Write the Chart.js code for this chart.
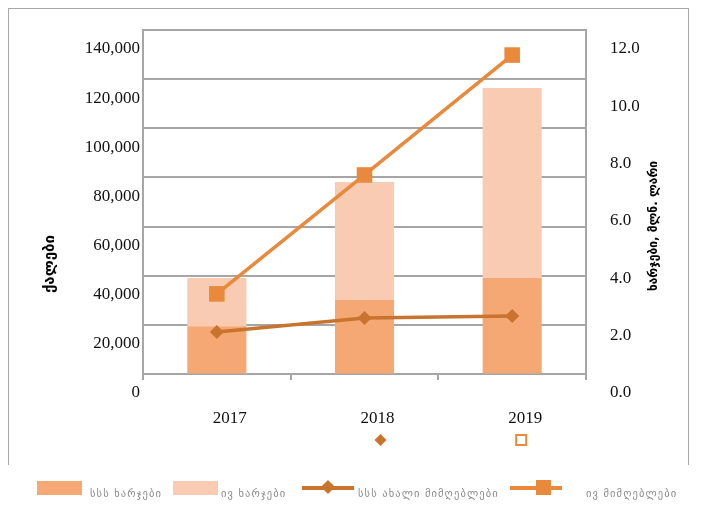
<!DOCTYPE html>
<html><head><meta charset="utf-8">
<script src="https://cdn.jsdelivr.net/npm/chart.js@4.4.1/dist/chart.umd.min.js"></script>
<style>
html,body{margin:0;padding:0;background:#fff;}
#wrap{position:relative;width:702px;height:506px;overflow:hidden;}
#frame{position:absolute;left:8px;top:8px;width:681px;height:457px;border:1.5px solid #a8a8a8;border-bottom:none;box-sizing:border-box;}
canvas{position:absolute;left:0;top:0;}
.sw{position:absolute;height:14px;width:45px;}
.lg{position:absolute;font-family:"DejaVu Sans",sans-serif;font-size:10.5px;letter-spacing:1.1px;color:#8a8a8a;white-space:nowrap;line-height:12px;}
.ln{position:absolute;height:4px;width:52px;}
.mk{position:absolute;}
</style></head><body>
<div id="wrap">
<div id="frame"></div>
<canvas id="c" width="702" height="506"></canvas>
<div id="legend"></div>
</div>
<script>
// ---- data ----
const years = ['2017', '2018', '2019'];
const baseExpenses = [1.67, 2.58, 3.35];      // dark bar part (mln GEL)
const extraExpenses = [1.68, 4.12, 6.63];     // light bar part (mln GEL)
const newRecipients = [17100, 22800, 23600];  // diamond line (women)
const recipients = [32600, 81000, 129800];    // square line (women)
const legendLabels = ['სსს ხარჯები', 'ივ ხარჯები', 'სსს ახალი მიმღებლები', 'ივ მიმღებლები'];
const leftTitle = 'ქალები';
const rightTitle = 'ხარჯები, მლნ. ლარი';

const cDark = '#f5a874', cLight = '#f8cbb2', cSq = '#e8893b', cDia = '#c8742f';
const grid = '#a6a6a6';
const tickFont = {family: '"Liberation Serif", "Times New Roman", serif', size: 17};

const decor = {
  id: 'decor',
  afterDraw(chart) {
    const ctx = chart.ctx;
    ctx.save();
    ctx.fillStyle = '#000';
    ctx.textAlign = 'center';
    ctx.textBaseline = 'middle';
    ctx.font = 'bold 15px "DejaVu Sans", sans-serif';
    ctx.save(); ctx.translate(50, 264); ctx.rotate(-Math.PI / 2); ctx.fillText(leftTitle, 0, 0); ctx.restore();
    ctx.font = 'bold 12px "DejaVu Sans", sans-serif';
    ctx.save(); ctx.translate(654, 226); ctx.rotate(-Math.PI / 2); ctx.fillText(rightTitle, 0, 0); ctx.restore();
    // stray markers under the axis
    const xs = chart.scales.x;
    const x1 = xs.getPixelForValue(1) + 16, x2 = xs.getPixelForValue(2) + 9, yy = 440;
    ctx.fillStyle = cDia;
    ctx.beginPath(); ctx.moveTo(x1, yy - 6); ctx.lineTo(x1 + 6, yy); ctx.lineTo(x1, yy + 6); ctx.lineTo(x1 - 6, yy); ctx.closePath(); ctx.fill();
    ctx.strokeStyle = cSq; ctx.lineWidth = 2;
    ctx.strokeRect(x2 - 5, yy - 5, 10, 10);
    ctx.restore();
  }
};

new Chart(document.getElementById('c'), {
  data: {
    labels: years,
    datasets: [
      {type: 'line', label: legendLabels[2], data: newRecipients, yAxisID: 'y', borderColor: cDia, backgroundColor: cDia,
       borderWidth: 3.5, pointStyle: 'rectRot', pointRadius: 7, pointBorderWidth: 0, pointBackgroundColor: cDia, tension: 0, order: 1},
      {type: 'line', label: legendLabels[3], data: recipients, yAxisID: 'y', borderColor: cSq, backgroundColor: cSq,
       borderWidth: 3.5, pointStyle: 'rect', pointRadius: 11, pointBorderWidth: 0, pointBackgroundColor: cSq, tension: 0, order: 2},
      {type: 'bar', label: legendLabels[0], data: baseExpenses, yAxisID: 'y1', backgroundColor: cDark, stack: 's',
       barPercentage: 0.4, categoryPercentage: 1, order: 5},
      {type: 'bar', label: legendLabels[1], data: extraExpenses, yAxisID: 'y1', backgroundColor: cLight, stack: 's',
       barPercentage: 0.4, categoryPercentage: 1, order: 6}
    ]
  },
  options: {
    responsive: false,
    animation: false,
    layout: {padding: {top: 30, left: 0, right: 0, bottom: 0}},
    plugins: {legend: {display: false}, tooltip: {enabled: false}},
    scales: {
      x: {
        stacked: true, offset: true,
        grid: {drawOnChartArea: false, drawTicks: true, tickLength: 6, color: grid, lineWidth: 2},
        border: {color: grid, width: 2},
        ticks: {font: tickFont, color: '#111', padding: 28, labelOffset: 13, maxRotation: 0},
        afterFit(s) { s.height = 132; }
      },
      y: {
        position: 'left', min: 0, max: 140000,
        grid: {color: grid, lineWidth: 2, drawTicks: false},
        border: {color: grid, width: 2},
        ticks: {stepSize: 20000, font: tickFont, color: '#111', padding: 3, labelOffset: 19,
                callback: v => v.toLocaleString('en-US')},
        afterFit(s) { s.width = 143; s.paddingTop = 10; s.paddingBottom = 10; }
      },
      y1: {
        position: 'right', min: 0, max: 12, stacked: true,
        grid: {drawOnChartArea: false, drawTicks: false},
        border: {display: true, color: grid, width: 2},
        ticks: {stepSize: 2, font: tickFont, color: '#111', padding: 24, labelOffset: 19,
                callback: v => Number(v).toFixed(1)},
        afterFit(s) { s.width = 116; s.paddingTop = 10; s.paddingBottom = 10; }
      }
    }
  },
  plugins: [decor]
});

// ---- legend (HTML) ----
const lg = document.getElementById('legend');
const items = [
  {kind: 'box', color: cDark, x: 37, tx: 90},
  {kind: 'box', color: cLight, x: 173, tx: 221},
  {kind: 'line', color: cDia, x: 302, tx: 358, mark: 'dia'},
  {kind: 'line', color: cSq, x: 510, tx: 586, mark: 'sq'}
];
items.forEach((it, i) => {
  if (it.kind === 'box') {
    const d = document.createElement('div'); d.className = 'sw';
    d.style.left = it.x + 'px'; d.style.top = '481px'; d.style.background = it.color; lg.appendChild(d);
  } else {
    const l = document.createElement('div'); l.className = 'ln';
    l.style.left = it.x + 'px'; l.style.top = '486px'; l.style.background = it.color; lg.appendChild(l);
    const m = document.createElement('div'); m.className = 'mk';
    if (it.mark === 'dia') {
      m.style.cssText = `left:${it.x + 21}px;top:482px;width:10px;height:10px;background:${it.color};transform:rotate(45deg);`;
    } else {
      m.style.cssText = `left:${it.x + 26}px;top:480px;width:15px;height:15px;background:${it.color};`;
    }
    lg.appendChild(m);
  }
  const t = document.createElement('div'); t.className = 'lg';
  t.style.left = it.tx + 'px'; t.style.top = '487px'; t.textContent = legendLabels[i];
  lg.appendChild(t);
});
</script>
</body></html>
